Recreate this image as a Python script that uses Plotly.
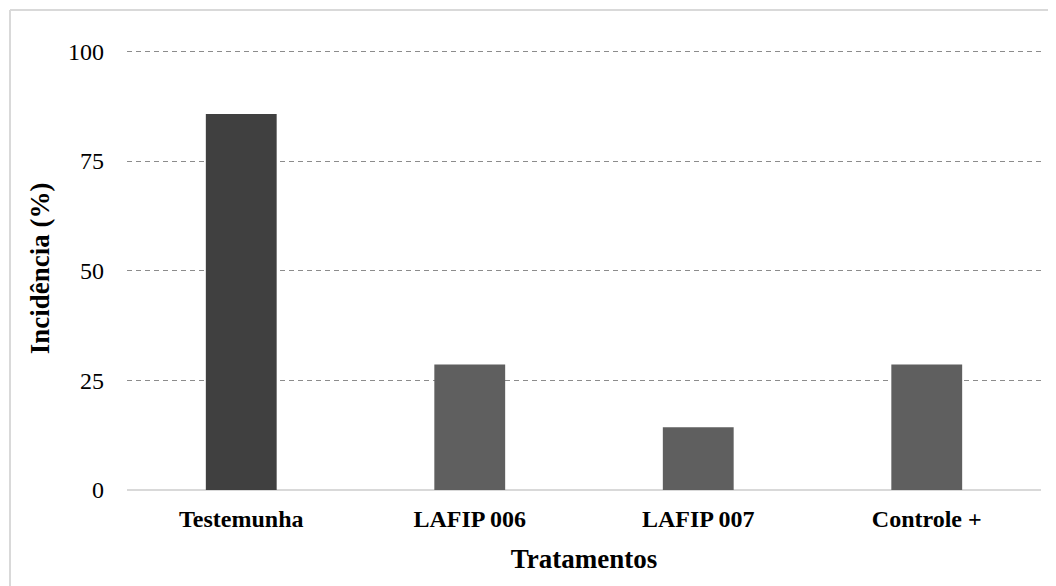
import plotly.graph_objects as go

categories = ["Testemunha", "LAFIP 006", "LAFIP 007", "Controle +"]
incidence = [85.7, 28.6, 14.3, 28.6]
bar_colors = ["#404040", "#5f5f5f", "#5f5f5f", "#5f5f5f"]
y_ticks = [0, 25, 50, 75, 100]

OFF = 8  # page body margin
W, H = 1056 - OFF, 586 - OFF
L, R, T, B = 119, 15, 39, 96
pw, ph = W - L - R, H - T - B

fig = go.Figure(go.Bar(
    x=categories, y=incidence, marker=dict(color=bar_colors, line=dict(width=0)),
    width=0.31,
))

font_family = "Liberation Serif, serif"

fig.update_layout(
    width=W, height=H,
    margin=dict(l=L, r=R, t=T, b=B, pad=0),
    paper_bgcolor="white", plot_bgcolor="white",
    showlegend=False,
    font=dict(family=font_family, color="black"),
    xaxis=dict(
        showgrid=False, showline=False, zeroline=False,
        tickvals=categories, ticktext=["<b>%s</b>" % c for c in categories],
        tickfont=dict(size=24, family=font_family),
        ticklabelstandoff=12,
        title=dict(text="<b>Tratamentos</b>", font=dict(size=27), standoff=18),
    ),
    yaxis=dict(
        range=[0, 101], tickvals=y_ticks, ticktext=[str(v) for v in y_ticks],
        showgrid=True, gridcolor="#8c8c8c", gridwidth=1, griddash="5px,4px",
        zeroline=True, zerolinecolor="#d9d9d9", zerolinewidth=2,
        showline=False,
        tickfont=dict(size=24),
        ticklabelstandoff=22,
        title=dict(text="<b>Incidência (%)</b>", font=dict(size=27), standoff=10),
    ),
)

# outer frame (top and left edges)
x0 = (2 - L) / pw
x1 = (W - L) / pw
y0 = (H - B - 2) / ph
y1 = (H - B - H) / ph
fig.add_shape(type="line", xref="paper", yref="paper", x0=x0, x1=x1, y0=y0, y1=y0,
              line=dict(color="#d9d9d9", width=2))
fig.add_shape(type="line", xref="paper", yref="paper", x0=x0, x1=x0, y0=y0, y1=y1,
              line=dict(color="#d9d9d9", width=2))

fig.write_html("out.html")
